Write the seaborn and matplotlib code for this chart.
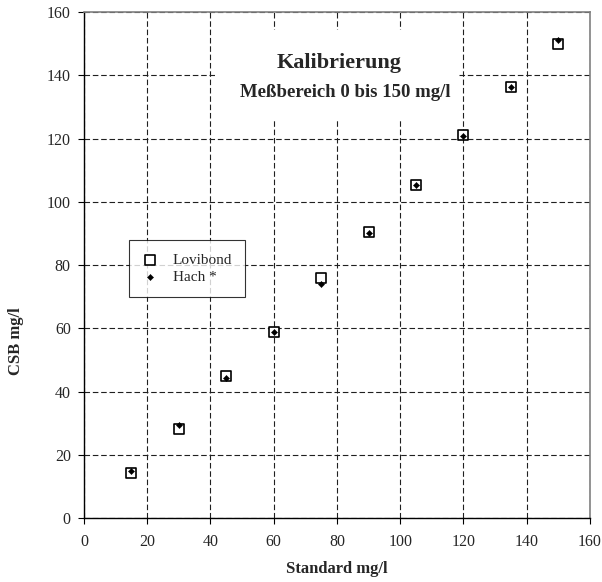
import matplotlib
matplotlib.use("Agg")
import matplotlib.pyplot as plt
import seaborn as sns
import pandas as pd

# Calibration standards (mg/l) and measured CSB values
standard = [15, 30, 45, 60, 75, 90, 105, 120, 135, 150]
lovibond = [14.2, 28.2, 44.8, 58.8, 75.8, 90.6, 105.4, 121.2, 136.3, 149.9]
hach = [14.9, 29.3, 44.4, 58.8, 74.0, 90.3, 105.4, 120.9, 136.4, 151.2]

x_ticks = [0, 20, 40, 60, 80, 100, 120, 140, 160]
y_ticks = [0, 20, 40, 60, 80, 100, 120, 140, 160]

sns.set_theme(style="white")
plt.rcParams["font.family"] = ["Liberation Serif", "DejaVu Serif"]

df_lov = pd.DataFrame({"Standard": standard, "CSB": lovibond})
df_hach = pd.DataFrame({"Standard": standard, "CSB": hach})

fig = plt.figure(figsize=(6.02, 5.82), dpi=100)
ax = fig.add_axes([0.1395, 0.110, 0.8405, 0.869])

ax.set_xlim(0, 160)
ax.set_ylim(0, 160)
ax.set_xticks(x_ticks)
ax.set_yticks(y_ticks)

ax.grid(True, color="#202020", linestyle=(0, (5, 2.5)), linewidth=0.8, zorder=0)
ax.set_axisbelow(True)

sns.scatterplot(data=df_lov, x="Standard", y="CSB", ax=ax, marker="s", s=48,
                facecolor="white", edgecolor="black", linewidth=1.2,
                label="Lovibond", zorder=3)
sns.scatterplot(data=df_hach, x="Standard", y="CSB", ax=ax, marker="D", s=10,
                color="black", edgecolor="black", linewidth=0.3,
                label="Hach *", zorder=4)

# Title block on a white panel
ax.add_patch(plt.Rectangle((0.259, 0.787), 0.48, 0.177, transform=ax.transAxes,
                           facecolor="white", edgecolor="none", zorder=2))
ax.text(0.504, 0.9, "Kalibrierung", transform=ax.transAxes, ha="center",
        va="center", fontsize=16, fontweight="bold", zorder=5)
ax.text(0.516, 0.842, "Meßbereich 0 bis 150 mg/l", transform=ax.transAxes,
        ha="center", va="center", fontsize=13.5, fontweight="bold", zorder=5)

leg = ax.legend(loc="upper left", bbox_to_anchor=(0.089, 0.549), frameon=True,
                fancybox=False, fontsize=11, borderpad=0.85, handletextpad=0.9,
                labelspacing=0.2, borderaxespad=0, handlelength=1.1)
leg.get_frame().set_edgecolor("black")
leg.get_frame().set_linewidth(0.8)
leg.set_zorder(6)

ax.set_xlabel("Standard mg/l", fontsize=12, fontweight="bold", labelpad=8)
ax.set_ylabel("CSB mg/l", fontsize=12, fontweight="bold")
ax.yaxis.set_label_coords(-0.119, 0.35)

ax.tick_params(axis="both", direction="out", length=4.5, width=0.8,
               color="black", labelsize=11.5, bottom=True, left=True)
ax.tick_params(axis="x", pad=7)
ax.tick_params(axis="y", pad=5)

for side in ["left", "bottom"]:
    ax.spines[side].set_color("black")
    ax.spines[side].set_linewidth(1.0)
for side in ["top", "right"]:
    ax.spines[side].set_color("#808080")
    ax.spines[side].set_linewidth(1.2)

fig.savefig("out.png", dpi=100)
